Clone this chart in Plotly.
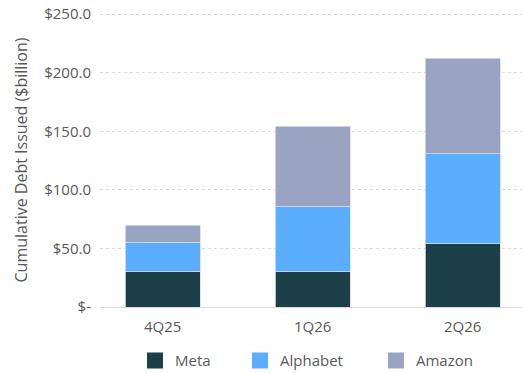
import plotly.graph_objects as go

categories = ["4Q25", "1Q26", "2Q26"]
meta = [30, 30, 54]
alphabet = [25, 55.5, 77]
amazon = [15, 69, 81.5]
series_names = ["Meta", "Alphabet", "Amazon"]
series_colors = ["#1D3F47", "#5AADFF", "#9BA3C2"]
y_tickvals = [0, 50, 100, 150, 200, 250]
y_ticktext = ["$-", "$50.0", "$100.0", "$150.0", "$200.0", "$250.0"]

FONT = "Open Sans"
GREY = "#595959"
FS = 15

legend_ids = ["legend", "legend2", "legend3"]
legend_x = [0.0829, 0.3318, 0.654]

fig = go.Figure()
for name, vals, col, lid in zip(series_names, [meta, alphabet, amazon], series_colors, legend_ids):
    fig.add_trace(go.Bar(
        x=categories, y=vals, name=name, width=0.5,
        marker=dict(color=col, line=dict(color="#dcdfe6", width=0.8)),
        showlegend=False,
    ))
    fig.add_trace(go.Scatter(
        x=[None], y=[None], mode="markers", name=name,
        marker=dict(symbol="square", size=16, color=col),
        showlegend=True, legend=lid,
    ))

legend_common = dict(
    orientation="h", xref="paper", yref="paper",
    y=-0.183, xanchor="left", yanchor="middle",
    font=dict(family=FONT, size=FS, color=GREY),
    itemsizing="trace", bgcolor="rgba(0,0,0,0)",
)

fig.update_layout(
    width=522, height=373,
    margin=dict(l=100, r=0, t=13, b=65.5, autoexpand=False),
    paper_bgcolor="white", plot_bgcolor="white",
    barmode="stack",
    font=dict(family=FONT, size=FS, color=GREY),
    legend=dict(x=legend_x[0], **legend_common),
    legend2=dict(x=legend_x[1], **legend_common),
    legend3=dict(x=legend_x[2], **legend_common),
    xaxis=dict(
        type="category", range=[-0.418, 2.395],
        showline=True, linecolor="#d9d9d9", linewidth=1,
        showgrid=False, ticks="", ticklabelstandoff=6,
        tickfont=dict(size=FS, color=GREY),
    ),
    yaxis=dict(
        range=[0, 251], tickvals=y_tickvals, ticktext=y_ticktext,
        showgrid=True, gridcolor="#d9d9d9", griddash="3px,3px", gridwidth=1,
        zeroline=False, ticks="", ticklabelstandoff=8,
        tickfont=dict(size=FS, color=GREY),
        title=dict(text="Cumulative Debt Issued ($billion)", standoff=12,
                   font=dict(size=16, color=GREY)),
    ),
)

fig.write_html("out.html")
